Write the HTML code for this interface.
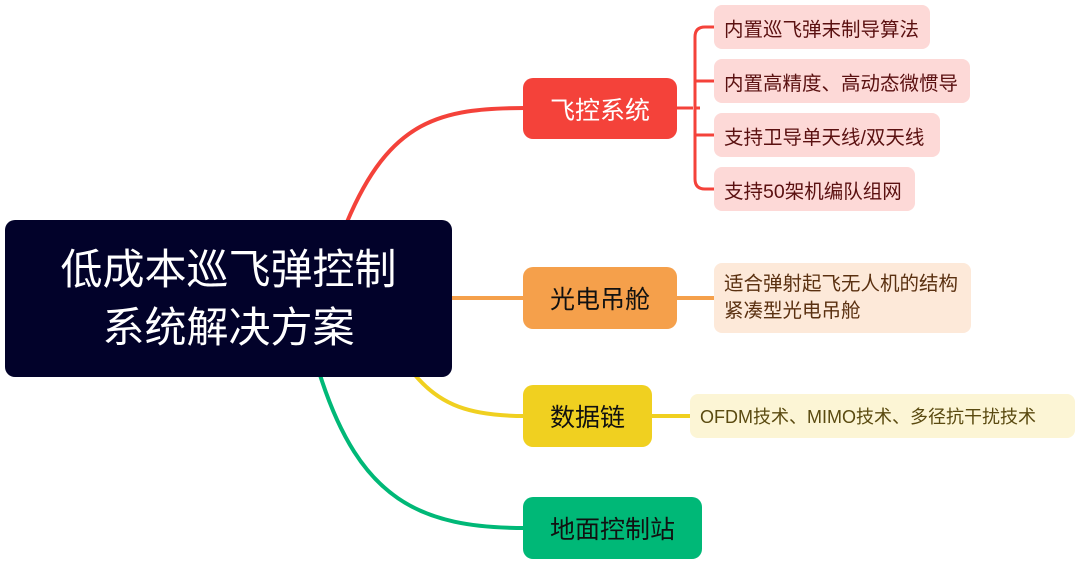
<!DOCTYPE html>
<html><head><meta charset="utf-8"><style>
body{margin:0;width:1080px;height:566px;background:#fff;position:relative;overflow:hidden;font-family:"Liberation Sans","Noto Sans CJK SC",sans-serif}
.b{position:absolute;display:flex;align-items:center;justify-content:center;box-sizing:border-box}
.l{position:absolute;display:flex;align-items:center;box-sizing:border-box;padding-left:10px;border-radius:8px;font-size:19.5px}
</style></head><body>
<svg width="1080" height="566" style="position:absolute;left:0;top:0">
<g fill="none" stroke-width="4">
<path d="M347 222 C390 120 440 108 525 108" stroke="#f4423a"/>
<path d="M677 108 H693 M714 27 H705 Q695 27 695 37 V179 Q695 189 705 189 H714 M695 81 H714 M695 135 H714 M695 108 H700" stroke="#f4423a" stroke-width="3"/>
<path d="M452 298 H525 M677 298 H714" stroke="#f5a04b"/>
<path d="M415 375 C440 405 470 416 525 416 M652 416 H690" stroke="#f0d020"/>
<path d="M320 375 C360 500 420 528 525 528" stroke="#00b877"/>
</g></svg>
<div class="b" style="left:5px;top:220px;width:447px;height:157px;background:#02022a;border-radius:10px;color:#fff;font-size:42px;line-height:58px;text-align:center">低成本巡飞弹控制<br>系统解决方案</div>
<div class="b" style="left:523px;top:78px;width:154px;height:61px;background:#f4423a;border-radius:10px;color:#fff;font-size:25px">飞控系统</div>
<div class="b" style="left:523px;top:267px;width:154px;height:62px;background:#f5a04b;border-radius:10px;color:#111;font-size:25px">光电吊舱</div>
<div class="b" style="left:523px;top:385px;width:129px;height:62px;background:#f0d020;border-radius:10px;color:#111;font-size:25px">数据链</div>
<div class="b" style="left:523px;top:497px;width:179px;height:62px;background:#00b877;border-radius:10px;color:#111;font-size:25px">地面控制站</div>
<div class="l" style="left:714px;top:5px;width:216px;height:44px;background:#fdd9d7;color:#5a1010">内置巡飞弹末制导算法</div>
<div class="l" style="left:714px;top:59px;width:256px;height:44px;background:#fdd9d7;color:#5a1010">内置高精度、高动态微惯导</div>
<div class="l" style="left:714px;top:113px;width:226px;height:44px;background:#fdd9d7;color:#5a1010">支持卫导单天线/双天线</div>
<div class="l" style="left:714px;top:167px;width:201px;height:44px;background:#fdd9d7;color:#5a1010">支持50架机编队组网</div>
<div class="l" style="left:714px;top:263px;width:257px;height:70px;background:#fde9d9;color:#5a3010;line-height:27px">适合弹射起飞无人机的结构<br>紧凑型光电吊舱</div>
<div class="l" style="left:690px;top:394px;width:385px;height:44px;background:#fcf5d5;color:#5a4a10;font-size:18px">OFDM技术、MIMO技术、多径抗干扰技术</div>
</body></html>
